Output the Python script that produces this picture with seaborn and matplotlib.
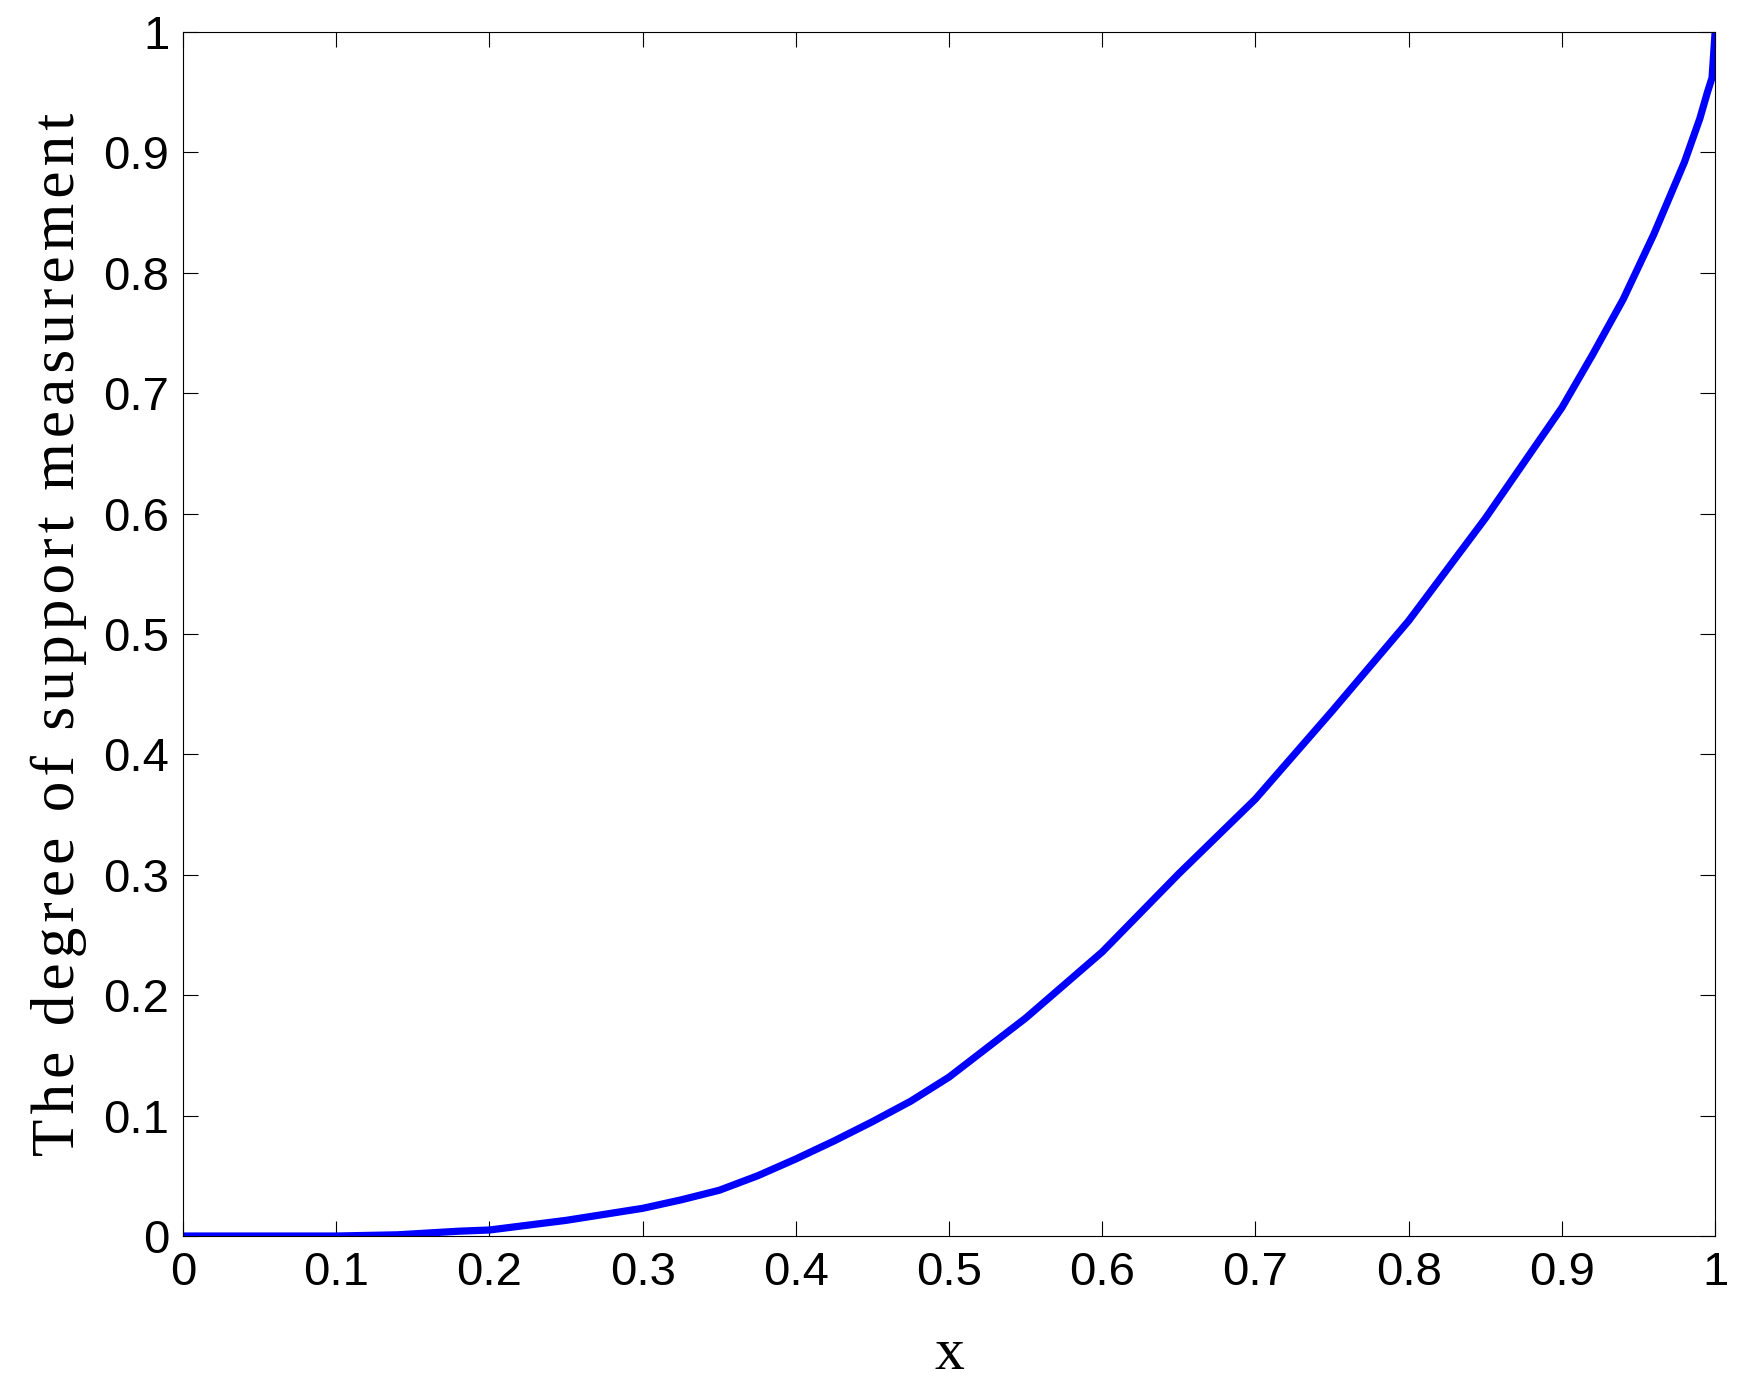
import seaborn as sns
import matplotlib
matplotlib.use('Agg')
import matplotlib.pyplot as plt
import pandas as pd

# values
x_vals = [0, 0.1, 0.14, 0.18, 0.2, 0.25, 0.3, 0.325, 0.35, 0.375, 0.4, 0.425, 0.45, 0.475,
          0.5, 0.55, 0.6, 0.65, 0.7, 0.75, 0.8, 0.85, 0.9, 0.92, 0.94, 0.96, 0.98, 0.99,
          0.995, 0.998, 1.0]
support = [0, 0, 0.001, 0.004, 0.005, 0.013, 0.023, 0.03, 0.038, 0.05, 0.064, 0.079, 0.095, 0.112,
           0.132, 0.181, 0.236, 0.301, 0.363, 0.436, 0.511, 0.596, 0.688, 0.732, 0.778, 0.832, 0.892, 0.928,
           0.95, 0.962, 1.0]
ticks = [0, 0.1, 0.2, 0.3, 0.4, 0.5, 0.6, 0.7, 0.8, 0.9, 1]
tick_labels = ['0', '0.1', '0.2', '0.3', '0.4', '0.5', '0.6', '0.7', '0.8', '0.9', '1']
y_title = 'The degree of support measurement'

df = pd.DataFrame({'x': x_vals, 'support': support})

sns.set_style('ticks')
plt.rcParams['font.family'] = ['Liberation Sans', 'DejaVu Sans']
plt.rcParams['xtick.direction'] = 'in'
plt.rcParams['ytick.direction'] = 'in'
plt.rcParams['text.color'] = 'black'

fig = plt.figure(figsize=(17.4, 13.96), dpi=100)
ax = fig.add_axes([0.1052, 0.1146, 0.8805, 0.8625])

sns.lineplot(data=df, x='x', y='support', color='#0000ff', linewidth=5.2, ax=ax,
             sort=False, estimator=None)

ax.set_xlim(0, 1)
ax.set_ylim(0, 1)
ax.set_xticks(ticks)
ax.set_yticks(ticks)
ax.set_xticklabels(tick_labels)
ax.set_yticklabels(tick_labels)
ax.tick_params(axis='both', which='both', labelsize=34, length=11, width=0.8,
               color='black', labelcolor='black', top=True, right=True)
ax.tick_params(axis='x', pad=11)
ax.tick_params(axis='y', pad=10)
for s in ax.spines.values():
    s.set_visible(True)
    s.set_linewidth(0.8)
    s.set_color('black')

# the original label font is spaced wide, so put hair spaces between the letters
spaced = '\u200a'.join(y_title)
ax.set_xlabel('x', fontsize=43, color='black', family=['Liberation Serif', 'DejaVu Serif'])
ax.set_ylabel(spaced, fontsize=44, color='black', family=['Liberation Serif', 'DejaVu Serif'])
ax.xaxis.set_label_coords(0.5, -0.0765)
ax.yaxis.set_label_coords(-0.063, 0.5)

fig.savefig('out.png', dpi=100, facecolor='white')
